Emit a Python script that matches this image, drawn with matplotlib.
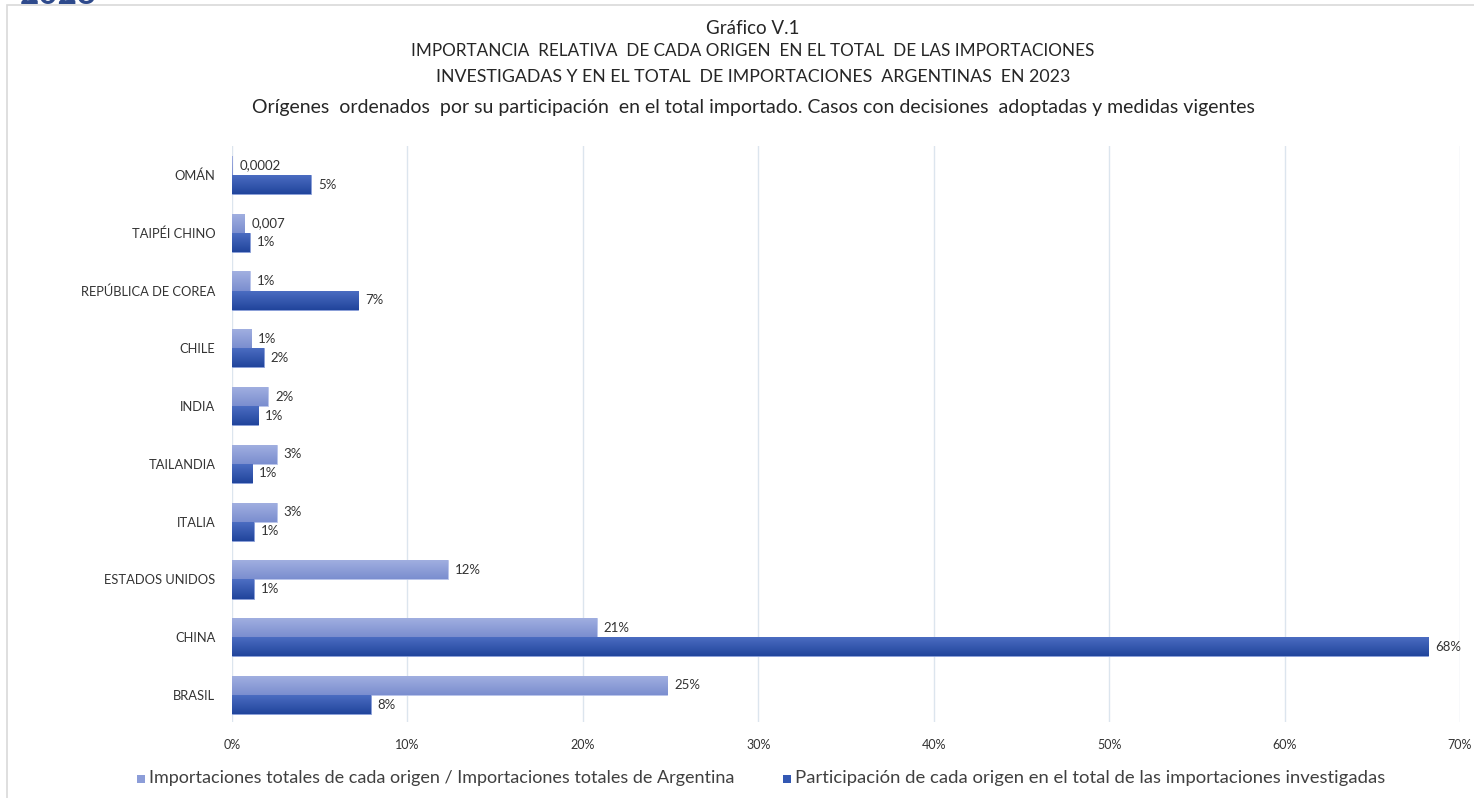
import matplotlib
matplotlib.use("Agg")
import matplotlib.pyplot as plt
import numpy as np
from matplotlib.colors import LinearSegmentedColormap
from matplotlib.patches import Rectangle

categories = ["OMÁN", "TAIPÉI CHINO", "REPÚBLICA DE COREA", "CHILE", "INDIA",
              "TAILANDIA", "ITALIA", "ESTADOS UNIDOS", "CHINA", "BRASIL"]
share_total = [0.02, 0.7, 1.0, 1.1, 2.05, 2.55, 2.55, 12.3, 20.8, 24.8]
share_invest = [4.5, 1.0, 7.2, 1.8, 1.5, 1.15, 1.25, 1.25, 68.2, 7.9]
labels_total = ["0,0002", "0,007", "1%", "1%", "2%", "3%", "3%", "12%", "21%", "25%"]
labels_invest = ["5%", "1%", "7%", "2%", "1%", "1%", "1%", "1%", "68%", "8%"]
xticks = [0, 10, 20, 30, 40, 50, 60, 70]
xtick_labels = ["0%", "10%", "20%", "30%", "40%", "50%", "60%", "70%"]
legend_labels = ["Importaciones totales de cada origen / Importaciones totales de Argentina",
                 "Participación de cada origen en el total de las importaciones investigadas"]
title_lines = ["Gráfico V.1",
               "IMPORTANCIA  RELATIVA  DE CADA ORIGEN  EN EL TOTAL  DE LAS IMPORTACIONES",
               "INVESTIGADAS Y EN EL TOTAL  DE IMPORTACIONES  ARGENTINAS  EN 2023",
               "Orígenes  ordenados  por su participación  en el total importado. Casos con decisiones  adoptadas y medidas vigentes"]

FONT = ["Lato", "DejaVu Sans"]
plt.rcParams['font.family'] = FONT

W, H = 1474, 798
fig = plt.figure(figsize=(W / 100, H / 100), dpi=100)
fig.patch.set_facecolor("white")

# frame
fig.patches.append(Rectangle((7 / W, -0.01), 1.0, 1 - 5 / H + 0.01, transform=fig.transFigure,
                             fill=False, edgecolor="#d9d9d9", linewidth=1.2))
fig.text(20 / W, 1.0 - 4 / H, "2023", color="#2E4A8C", fontsize=24, fontweight="bold",
         ha="left", va="baseline")

ax = fig.add_axes([232 / W, 1 - 722 / H, (1460 - 232) / W, (722 - 146) / H])
n = len(categories)
y = np.arange(n)
h = 0.33

light_cmap = LinearSegmentedColormap.from_list("l", ["#7b8ecf", "#a2b0e1"])
dark_cmap = LinearSegmentedColormap.from_list("d", ["#21459c", "#4d6ec3"])

b1 = ax.barh(y - h / 2, share_total, height=h, color="#8c9dd8", edgecolor="#b8c4ea", linewidth=0.6, zorder=3)
b2 = ax.barh(y + h / 2, share_invest, height=h, color="#3358b3", edgecolor="#8a9fd8", linewidth=0.6, zorder=3)

grad = np.linspace(0, 1, 64).reshape(-1, 1)
for bars, cmap in ((b1, light_cmap), (b2, dark_cmap)):
    for p in bars:
        x0, y0 = p.get_x(), p.get_y()
        w, hh = p.get_width(), p.get_height()
        im = ax.imshow(grad, extent=[x0, x0 + w, y0 + hh, y0], aspect="auto", cmap=cmap,
                       origin="lower", zorder=3.5, interpolation="bilinear")
        im.set_clip_path(p)

for i in range(n):
    ax.text(share_total[i] + 0.4, y[i] - h / 2, labels_total[i], va="center", ha="left",
            fontsize=9.5, color="#333333")
    ax.text(share_invest[i] + 0.4, y[i] + h / 2, labels_invest[i], va="center", ha="left",
            fontsize=9.5, color="#333333")

ax.set_xlim(0, 70)
ax.set_ylim(9.467, -0.502)
ax.set_xticks(xticks)
ax.set_xticklabels(xtick_labels, fontsize=9, color="#333333")
ax.set_yticks(y)
ax.set_yticklabels(categories, fontsize=9.3, color="#333333")
ax.tick_params(axis="both", length=0)
ax.tick_params(axis="x", pad=12)
ax.tick_params(axis="y", pad=12)
ax.grid(axis="x", color="#dce5ee", linewidth=1.0, zorder=0)
ax.set_axisbelow(True)
for s in ax.spines.values():
    s.set_visible(False)

# titles
title_y = [28, 51, 77, 108]
title_fs = [13.5, 12.3, 12.8, 14]
for t, ty, fs in zip(title_lines, title_y, title_fs):
    fig.text(753 / W, 1 - ty / H, t, ha="center", va="center", fontsize=fs, color="#262626")

# legend
leg_y = 1 - 778 / H
fig.patches.append(Rectangle((137 / W, leg_y - 4.5 / H), 8 / W, 8 / H, transform=fig.transFigure,
                             facecolor="#8c9dd8", edgecolor="none"))
fig.text(149 / W, leg_y, legend_labels[0], ha="left", va="center", fontsize=13, color="#404040")
fig.patches.append(Rectangle((783 / W, leg_y - 4.5 / H), 8 / W, 8 / H, transform=fig.transFigure,
                             facecolor="#3358b3", edgecolor="none"))
fig.text(795 / W, leg_y, legend_labels[1], ha="left", va="center", fontsize=13.3, color="#404040")

fig.savefig("out.png", dpi=100)
